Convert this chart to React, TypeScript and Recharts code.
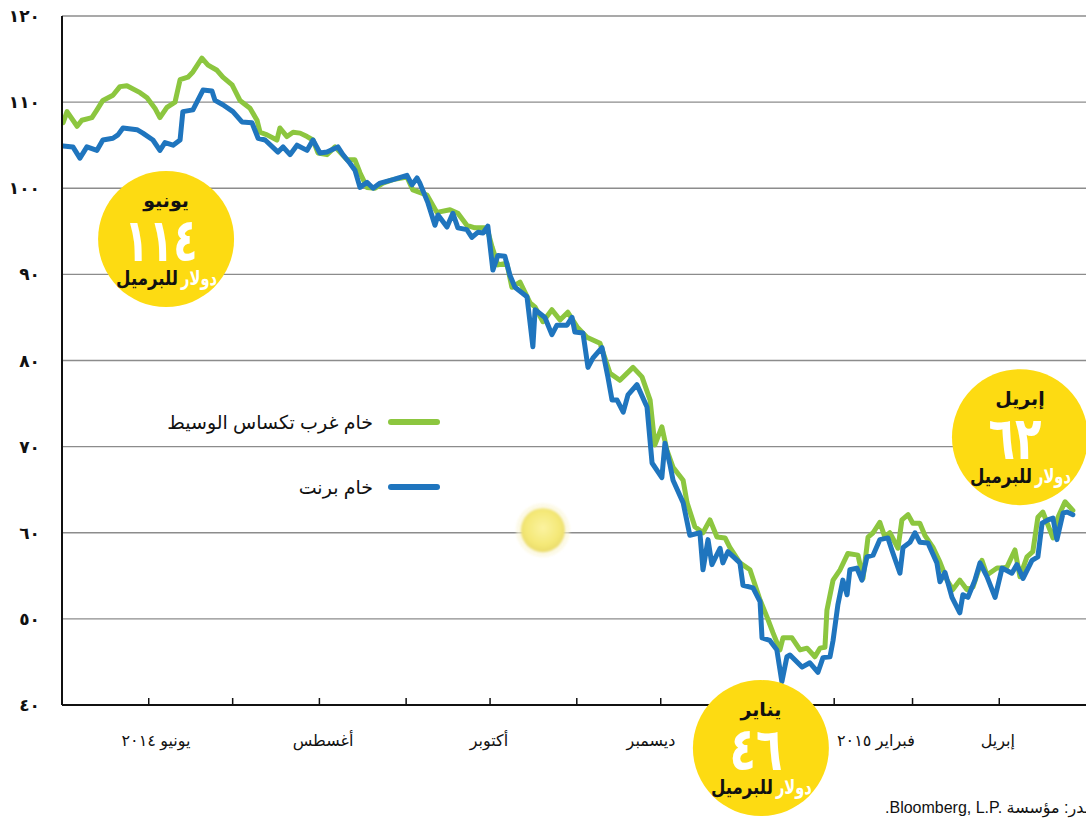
import React from 'react';
import { LineChart, Line, XAxis, YAxis, CartesianGrid, ReferenceDot, Legend } from 'recharts';

// day 0 = 1 May 2014
const wtiDays = [0.4,1.8,5.4,7.1,10.7,12.5,14.6,18.2,20.7,23.2,27.9,30.4,33.2,35.0,37.5,40.4,42.2,45.0,46.8,50.0,52.2,55.4,57.5,60.8,63.6,67.2,69.7,70.8,73.3,76.8,77.9,80.4,82.6,85.1,87.6,89.7,91.5,94.7,97.6,101.9,104.7,106.5,109.0,111.9,114.7,118.3,123.3,125.4,130.5,134.0,138.7,141.5,144.7,147.6,151.9,153.7,155.8,159.0,160.8,163.7,167.3,169.1,171.9,175.1,178.0,180.8,184.1,187.6,192.3,195.9,199.4,204.1,207.3,210.2,211.9,214.4,216.2,218.4,222.0,223.4,226.2,229.1,231.6,234.1,237.0,238.7,242.3,245.9,249.5,252.0,254.1,256.6,257.7,260.9,263.8,266.3,269.1,270.9,272.7,273.4,275.6,278.1,280.9,284.5,286.3,288.1,289.9,292.3,294.1,295.9,298.8,300.2,302.4,304.1,306.6,308.4,311.3,313.8,316.3,318.4,320.9,323.4,325.6,328.8,330.6,334.2,336.0,337.7,340.6,342.4,344.9,347.0,348.8,350.6,354.2,356.0,358.5,361.3];
const wtiPrices = [107.6,108.9,107.2,107.9,108.2,109.1,110.2,110.8,111.8,111.9,111.1,110.5,109.3,108.2,109.4,110.0,112.6,112.9,113.5,115.1,114.3,113.7,112.9,112.0,110.2,109.3,107.9,106.5,106.2,105.6,107.0,106.0,106.5,106.4,106.0,105.6,104.1,103.9,104.8,103.3,103.3,101.8,100.1,100.0,100.6,101.0,101.3,99.8,99.2,97.2,97.5,97.1,95.7,95.4,95.4,93.2,91.1,91.3,88.5,89.1,86.7,86.2,84.5,85.9,84.7,85.6,83.9,82.7,82.0,78.5,77.7,79.2,78.1,75.4,70.2,72.3,69.6,67.6,66.1,63.5,60.7,60.0,61.5,59.5,59.4,58.3,56.5,55.7,52.2,50.2,48.4,46.4,47.8,47.8,46.4,46.6,45.6,46.6,46.7,51.0,54.5,55.7,57.6,57.4,54.7,59.5,60.0,61.2,59.5,60.0,58.2,61.5,62.1,61.1,61.1,59.7,58.3,56.6,54.5,53.4,54.5,53.4,53.7,56.8,55.1,55.9,55.9,56.0,58.0,54.9,57.2,57.8,61.8,62.4,59.4,61.8,63.6,62.6];

const brentDays = [0.4,3.9,6.4,8.9,12.5,14.6,18.2,20.0,21.8,26.8,28.9,32.5,35.0,36.8,39.7,42.2,43.2,46.8,50.4,53.6,54.7,57.5,61.1,64.3,67.9,70.1,72.6,77.2,79.0,81.5,84.0,87.6,89.7,92.2,94.7,98.6,100.4,102.9,104.7,106.5,109.0,111.2,113.7,118.3,123.3,125.1,126.9,127.9,130.8,133.3,134.4,137.6,139.7,141.5,144.7,146.5,148.7,150.5,152.2,154.0,155.8,158.3,160.1,161.9,166.2,168.3,169.1,172.6,175.1,176.9,180.5,182.3,183.3,186.2,188.0,189.8,193.0,195.1,196.6,198.4,200.6,202.3,205.5,209.1,210.9,214.4,215.5,217.3,218.4,222.0,224.4,228.0,229.1,230.9,232.3,235.2,236.2,238.0,242.3,243.4,247.0,249.5,250.2,253.0,255.5,257.3,259.1,260.2,264.5,267.3,270.2,272.0,274.5,275.6,277.3,279.1,280.6,281.6,284.1,285.9,287.7,289.9,292.3,295.2,296.6,299.5,300.6,303.1,304.9,306.6,309.5,312.7,313.8,315.6,318.1,320.9,322.0,323.8,326.3,328.1,330.6,333.5,336.0,339.5,341.3,343.5,346.7,348.8,350.3,352.4,354.2,355.6,357.8,359.2,361.3];
const brentPrices = [104.9,104.8,103.5,104.8,104.4,105.6,105.8,106.2,107.0,106.8,106.4,105.6,104.4,105.3,105.0,105.6,108.9,109.1,111.4,111.3,110.2,109.7,108.9,107.7,107.6,105.8,105.6,104.2,104.8,103.9,105.0,104.4,105.6,104.1,104.2,104.8,103.9,102.9,102.1,100.1,100.7,100.0,100.6,101.0,101.5,100.4,101.2,100.6,98.3,95.7,96.9,95.5,97.1,95.4,95.2,94.3,94.9,94.8,95.6,90.5,92.2,92.1,89.9,88.5,87.4,81.6,85.9,85.0,83.0,84.1,84.1,85.0,83.3,83.2,79.2,80.3,81.5,78.1,75.4,75.4,74.0,76.0,77.2,74.6,68.1,66.4,70.4,67.9,66.1,63.5,59.7,60.0,55.7,59.2,56.3,58.2,56.5,57.8,56.5,53.9,53.6,52.0,47.8,47.5,46.4,42.7,45.6,45.8,44.4,44.9,43.8,45.5,45.6,47.5,51.6,54.5,52.8,55.7,55.9,54.5,57.2,57.4,59.2,59.4,58.0,55.3,58.3,58.9,60.0,58.9,58.8,56.5,54.3,55.4,52.5,50.7,52.8,52.5,54.5,56.5,54.9,52.5,55.9,55.3,56.3,54.7,56.8,57.2,61.1,61.5,61.7,59.2,62.3,62.4,62.1];

const seriesNames = ['خام غرب تكساس الوسيط', 'خام برنت'];
const seriesColors = ['#8CC63F', '#1F75BE'];

const monthStartDays = [31, 61, 92, 123, 153, 184, 214, 245, 276, 304, 335];
const monthLabelDays = [33.6, 93.3, 152.6, 210.5, 290.9, 334.5];
const monthLabels = ['يونيو ٢٠١٤', 'أغسطس', 'أكتوبر', 'ديسمبر', 'فبراير ٢٠١٥', 'إبريل'];

const yTicks = [40, 50, 60, 70, 80, 90, 100, 110, 120];
const yTickLabels = ['٤٠', '٥٠', '٦٠', '٧٠', '٨٠', '٩٠', '١٠٠', '١١٠', '١٢٠'];

const calloutDays = [37.2, 249.8, 342.4];
const calloutValues = [94.1, 35.0, 71.1];
const calloutMonths = ['يونيو', 'يناير', 'إبريل'];
const calloutPrices = ['١١٤', '٤٦', '٦٢'];
const calloutUnit = 'للبرميل';
const calloutCurrency = 'دولار';

const glowDay = 171.9;
const glowValue = 60.3;

const sourceText = 'المصدر: مؤسسة Bloomberg, L.P.\u200E.';

const wtiData = wtiDays.map((d, i) => ({ day: d, price: wtiPrices[i] }));
const brentData = brentDays.map((d, i) => ({ day: d, price: brentPrices[i] }));

const FONT = "'Liberation Sans', 'DejaVu Sans', sans-serif";
const YELLOW = '#FDDB12';

const makeCallout = (i: number) => (props: any) => {
  const { cx, cy } = props;
  const numW = calloutPrices[i].length === 3 ? 73 : 53;
  return (
    <g>
      <circle cx={cx} cy={cy} r={68} fill={YELLOW} />
      <text x={cx} y={cy - 32} textAnchor="middle" fontSize={19} fontWeight="bold" fill="#111" fontFamily={FONT}>
        {calloutMonths[i]}
      </text>
      <text x={cx - 5} y={cy + 22} textAnchor="middle" fontSize={60} fontWeight="bold" fill="#fff"
        textLength={numW} lengthAdjust="spacingAndGlyphs" fontFamily={FONT}>
        {calloutPrices[i]}
      </text>
      <text x={cx - 19} y={cy + 46} textAnchor="middle" fontSize={20} fontWeight="bold" fill="#111"
        textLength={62} lengthAdjust="spacingAndGlyphs" fontFamily={FONT}>
        {calloutUnit}
      </text>
      <text x={cx + 33} y={cy + 46} textAnchor="middle" fontSize={20} fontWeight="bold" fill="#fff"
        textLength={36} lengthAdjust="spacingAndGlyphs" fontFamily={FONT}>
        {calloutCurrency}
      </text>
    </g>
  );
};

const glowShape = (props: any) => {
  const { cx, cy } = props;
  return (
    <g>
      <defs>
        <radialGradient id="glowGrad" cx="50%" cy="45%" r="55%">
          <stop offset="0%" stopColor="#FBF3A0" />
          <stop offset="70%" stopColor="#F4E877" />
          <stop offset="100%" stopColor="#EADB6A" />
        </radialGradient>
        <filter id="glowBlur" x="-50%" y="-50%" width="200%" height="200%">
          <feGaussianBlur stdDeviation="1.3" />
        </filter>
      </defs>
      <circle cx={cx} cy={cy} r={27} fill="#FBF6D8" opacity={0.6} filter="url(#glowBlur)" />
      <circle cx={cx} cy={cy} r={22} fill="url(#glowGrad)" filter="url(#glowBlur)" />
    </g>
  );
};

const renderLegend = () => (
  <svg width={320} height={110} style={{ overflow: 'visible' }}>
    {seriesNames.map((n, i) => (
      <g key={n}>
        <text x={233} y={27 + i * 65} textAnchor="end" dominantBaseline="central" fontSize={19} fill="#111" fontFamily={FONT}>
          {n}
        </text>
        <line x1={251} x2={297} y1={27 + i * 65} y2={27 + i * 65} stroke={seriesColors[i]} strokeWidth={6} strokeLinecap="round" />
      </g>
    ))}
  </svg>
);

const emptyTick = () => <g />;

export default function App() {
  return (
    <div style={{ position: 'absolute', left: 0, top: 0, width: 1086, height: 821, overflow: 'hidden', background: '#fff', fontFamily: FONT }}>
      <LineChart width={1086} height={821} margin={{ top: 16, right: 0, bottom: 66, left: 0 }} style={{ fontFamily: FONT }}>
        <CartesianGrid vertical={false} stroke="#8c8c8c" strokeWidth={1.3} xAxisId={0} />
        <XAxis xAxisId={0} type="number" dataKey="day" domain={[0, 366]} allowDataOverflow ticks={monthStartDays}
          interval={0} tick={emptyTick} tickSize={-7} tickMargin={0} height={10} axisLine={{ stroke: '#111', strokeWidth: 2 }}
          tickLine={{ stroke: '#111', strokeWidth: 1.5 }} />
        <XAxis xAxisId={1} type="number" dataKey="day" domain={[0, 366]} allowDataOverflow ticks={monthLabelDays}
          interval={0} height={40} axisLine={false} tickLine={false} tickSize={0} tickMargin={20}
          tickFormatter={(v: number) => monthLabels[monthLabelDays.indexOf(v)] ?? ''}
          tick={{ fill: '#111', fontSize: 16, fontFamily: FONT }} />
        <YAxis type="number" domain={[40, 120]} allowDataOverflow ticks={yTicks} interval={0} width={62}
          axisLine={{ stroke: '#111', strokeWidth: 2 }} tickLine={false} tickSize={0} tickMargin={22}
          tickFormatter={(v: number) => yTickLabels[yTicks.indexOf(v)] ?? ''}
          tick={{ fill: '#111', fontSize: 17, fontWeight: 'bold', fontFamily: FONT }} />
        <Legend layout="horizontal" verticalAlign="middle" align="center" content={renderLegend}
          wrapperStyle={{ position: 'absolute', left: 140, top: 395, width: 320, height: 110 }} />
        <Line xAxisId={0} data={wtiData} dataKey="price" name={seriesNames[0]} stroke={seriesColors[0]} strokeWidth={5}
          dot={false} activeDot={false} isAnimationActive={false} strokeLinejoin="round" strokeLinecap="round" />
        <Line xAxisId={0} data={brentData} dataKey="price" name={seriesNames[1]} stroke={seriesColors[1]} strokeWidth={5}
          dot={false} activeDot={false} isAnimationActive={false} strokeLinejoin="round" strokeLinecap="round" />
        <ReferenceDot xAxisId={0} x={glowDay} y={glowValue} r={22} ifOverflow="visible" shape={glowShape} />
        {calloutDays.map((d, i) => (
          <ReferenceDot key={i} xAxisId={0} x={d} y={calloutValues[i]} r={68} ifOverflow="visible" shape={makeCallout(i)} />
        ))}
      </LineChart>
      <div dir="rtl" style={{ position: 'absolute', left: 885, top: 798, fontSize: 16, whiteSpace: 'nowrap', color: '#111', fontFamily: FONT }}>
        {sourceText}
      </div>
    </div>
  );
}
